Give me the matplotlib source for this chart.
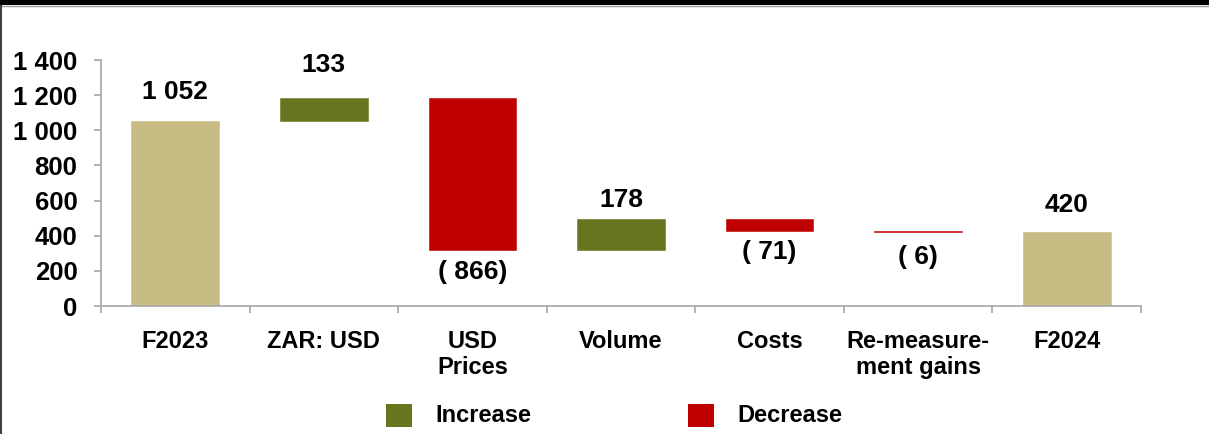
import numpy as np
import matplotlib.pyplot as plt
from matplotlib.patches import Rectangle
from matplotlib.lines import Line2D

plt.rcParams['font.family'] = ['Liberation Sans', 'DejaVu Sans']
plt.rcParams['font.weight'] = 'bold'

# Headline earnings bridge, F2023 -> F2024
categories = ['F2023', 'ZAR: USD', 'USD\nPrices', 'Volume', 'Costs',
              'Re-measure-\nment gains', 'F2024']
values = [1052, 133, -866, 178, -71, -6, 420]
is_total = [True, False, False, False, False, False, True]

# gap between bar end and its value label, in pixels
label_gap = [17, 21, 10, 7, 9, 13, 15]

tan = '#C8BC85'
green = '#66761E'
red = '#C00000'
grey = '#A6A6A6'

fig = plt.figure(figsize=(12.09, 4.34), dpi=100)
ax = fig.add_axes([101 / 1209, 1 - 306 / 434, 1040 / 1209, 246 / 434])

x = np.arange(len(categories))
bottoms, heights, colors = [], [], []
running = 0
for v, tot in zip(values, is_total):
    if tot:
        bottoms.append(0)
        heights.append(v)
        colors.append(tan)
        running = v
    else:
        start = running
        running += v
        bottoms.append(min(start, running))
        heights.append(abs(v))
        colors.append(green if v > 0 else red)

ax.bar(x, heights, bottom=bottoms, width=0.59, color=colors,
       edgecolor=colors, linewidth=0.4)

def fmt(v):
    s = f'{abs(v):,}'.replace(',', ' ')
    return f'( {s})' if v < 0 else s

for xi, v, b, h, gap in zip(x, values, bottoms, heights, label_gap):
    if v >= 0:
        ax.annotate(fmt(v), (xi, b + h), xytext=(0, gap * 0.72),
                    textcoords='offset points', ha='center', va='bottom',
                    fontsize=19, fontweight='bold')
    else:
        ax.annotate(fmt(v), (xi, b), xytext=(0, -gap * 0.72),
                    textcoords='offset points', ha='center', va='top',
                    fontsize=19, fontweight='bold')

ax.set_xlim(-0.5, len(categories) - 0.5)
ax.set_ylim(0, 1400)
ax.set_yticks(range(0, 1401, 200))
ax.set_yticklabels([f'{t:,}'.replace(',', ' ') for t in range(0, 1401, 200)])
ax.set_xticks(x)
ax.set_xticklabels(categories, linespacing=1.2)
ax.set_xticks(np.arange(-0.5, len(categories)), minor=True)

for side in ['top', 'right']:
    ax.spines[side].set_visible(False)
for side in ['left', 'bottom']:
    ax.spines[side].set_color(grey)
    ax.spines[side].set_linewidth(1.2)

ax.tick_params(axis='y', length=5, width=1.2, color=grey, pad=12, labelsize=18.5)
ax.tick_params(axis='x', which='major', length=0, pad=17, labelsize=17)
ax.tick_params(axis='x', which='minor', length=5, width=1.2, color=grey)

# legend squares and labels
for x0, c, lab in [(386, green, 'Increase'), (688, red, 'Decrease')]:
    fig.add_artist(Rectangle((x0 / 1209, 1 - 427 / 434), 26 / 1209, 23 / 434,
                             transform=fig.transFigure, color=c, lw=0))
    fig.text((x0 + 49) / 1209, 1 - 415 / 434, lab, fontsize=17,
             fontweight='bold', va='center', ha='left')

# slide frame: black band on top, thin border on the left
fig.add_artist(Rectangle((0, 1 - 5 / 434), 1, 5 / 434, transform=fig.transFigure,
                         color='black', lw=0))
fig.add_artist(Line2D([0, 1], [1 - 6 / 434] * 2, transform=fig.transFigure,
                      color='#9A9A9A', lw=1))
fig.add_artist(Line2D([1 / 1209] * 2, [0, 1 - 6 / 434], transform=fig.transFigure,
                      color='#404040', lw=1.5))

fig.savefig('out.png', dpi=100)
